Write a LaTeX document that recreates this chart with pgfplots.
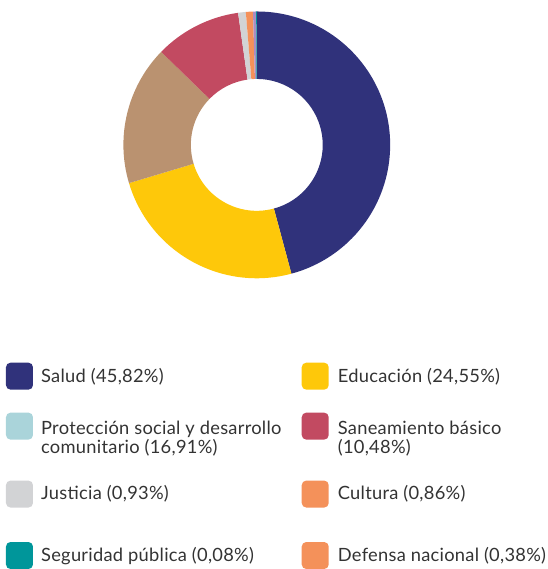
\documentclass[border=0pt]{standalone}
\usepackage{pgfplots}
\pgfplotsset{compat=1.18}
\usepackage{fontspec}
\setmainfont{Lato}[LetterSpace=1.5]
\definecolor{cSalud}{HTML}{30327B}
\definecolor{cEdu}{HTML}{FEC80A}
\definecolor{cProt}{HTML}{AAD4DA}
\definecolor{cProtPie}{HTML}{BA9270}
\definecolor{cSan}{HTML}{C24A61}
\definecolor{cJus}{HTML}{D2D3D5}
\definecolor{cCul}{HTML}{F4915A}
\definecolor{cSeg}{HTML}{00969A}
\definecolor{cDef}{HTML}{F4915A}
\definecolor{cDefPie}{HTML}{A98DC4}
\definecolor{txt}{HTML}{333333}
\begin{document}
\begin{tikzpicture}
\begin{axis}[x=1pt,y=1pt,xmin=0,xmax=548,ymin=0,ymax=569,hide axis,clip=false,
  anchor=origin,at={(0,0)}]
\path (axis cs:0,0) rectangle (axis cs:548,569);
\def\cx{257}\def\cy{424}\def\ro{133.5}\def\ri{66}
\foreach \v/\c [remember=\e as \s (initially 90)] in
  {45.82/cSalud, 24.55/cEdu, 16.91/cProtPie, 10.48/cSan, 0.93/cJus, 0.86/cCul, 0.38/cDefPie, 0.08/cSeg} {
  \pgfmathsetmacro\e{\s-3.6*\v}
  \pgfmathsetmacro\xo{\cx+\ro*cos(\s)}
  \pgfmathsetmacro\yo{\cy+\ro*sin(\s)}
  \pgfmathsetmacro\xi{\cx+\ri*cos(\e)}
  \pgfmathsetmacro\yi{\cy+\ri*sin(\e)}
  \edef\tmp{\noexpand\fill[\c] (axis cs:\xo,\yo) arc[start angle=\s,end angle=\e,radius=\ro pt]
     -- (axis cs:\xi,\yi) arc[start angle=\e,end angle=\s,radius=\ri pt] -- cycle;}
  \tmp
}
% legend
\def\fs{\fontsize{18.3}{19}\selectfont}
\foreach \xs/\xt/\yc/\yb/\c/\t in {
  6/41/376.5/383/cSalud/{Salud (45,82\%)},
  302/338/376.5/383/cEdu/{Educación (24,55\%)},
  6/41/494.5/500/cJus/{Justicia (0,93\%)},
  302/338/494.5/500/cCul/{Cultura (0,86\%)},
  6/41/556/562/cSeg/{Seguridad pública (0,08\%)},
  302/338/556/562/cDef/{Defensa nacional (0,38\%)}} {
  \edef\tmp{\noexpand\fill[\c,rounded corners=4.5pt] (axis cs:\xs,{569-\yc-13.5}) rectangle (axis cs:{\xs+27},{569-\yc+13.5});
    \noexpand\node[anchor=base west,inner sep=0pt,text=txt,font=\noexpand\fs] at (axis cs:\xt,{569-\yb}) {\unexpanded\expandafter{\t}};}
  \tmp
}
\fill[cProt,rounded corners=4.5pt] (axis cs:6,{569-440}) rectangle (axis cs:33,{569-413});
\fill[cSan,rounded corners=4.5pt] (axis cs:302,{569-440}) rectangle (axis cs:329,{569-413});
\node[anchor=base west,inner sep=0pt,text=txt,font=\fs] at (axis cs:41,{569-435}) {Protección social y desarrollo};
\node[anchor=base west,inner sep=0pt,text=txt,font=\fs] at (axis cs:41,{569-454}) {comunitario (16,91\%)};
\node[anchor=base west,inner sep=0pt,text=txt,font=\fs] at (axis cs:338,{569-435}) {Saneamiento básico};
\node[anchor=base west,inner sep=0pt,text=txt,font=\fs] at (axis cs:338,{569-454}) {(10,48\%)};
\end{axis}
\end{tikzpicture}
\end{document}
